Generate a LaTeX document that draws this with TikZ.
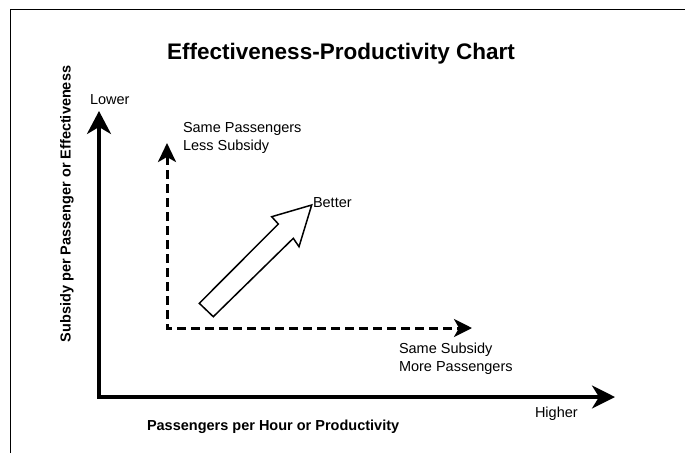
\documentclass[tikz,border=0pt]{standalone}
\usepackage{fontspec}
\setmainfont{Liberation Sans}
\usetikzlibrary{arrows.meta}
\newcommand\chartlbl{\fontsize{14.5}{18}\selectfont}
\begin{document}
\begin{tikzpicture}[x=1pt,y=-1pt,
  every node/.style={inner sep=0pt, outer sep=0pt},
  lbl/.style={font=\chartlbl},
  boldlbl/.style={font=\chartlbl\bfseries},
  mainaxis/.style={line width=3.4pt, line join=miter,
    {Stealth[length=23pt,width=24pt,inset=7pt]}-{Stealth[length=23pt,width=23pt,inset=7pt]}},
  guide/.style={line width=3pt, line join=miter, dash pattern=on 9pt off 5pt,
    {Stealth[length=19pt,width=18pt,inset=5pt]}-{Stealth[length=18pt,width=18pt,inset=5pt]}},
  blockarrow/.style={line width=1.5pt, line join=miter, fill=white}]
\useasboundingbox (0,0) rectangle (685,453);

% frame edges
\draw[line width=1pt] (10.5,453) -- (10.5,9) -- (685,9);

% title
\node[anchor=base, font=\fontsize{22.5}{27}\selectfont\bfseries] (title) at (341,59)
  {Effectiveness-Productivity Chart};

% axes
\coordinate (origin) at (99,397);
\coordinate (ytop) at (99,111);
\coordinate (xend) at (615,397);
\draw[mainaxis] (ytop) -- (origin) -- (xend);

% axis titles and end labels
\node[boldlbl, rotate=90, anchor=base] (ylabel) at (70.5,204)
  {Subsidy per Passenger or Effectiveness};
\node[boldlbl, anchor=base west] (xlabel) at (147,430)
  {Passengers per Hour or Productivity};
\node[lbl, anchor=base west] (lower) at (90,104) {Lower};
\node[lbl, anchor=base west] (higher) at (535,417) {Higher};

% dashed guides
\coordinate (gcorner) at (167,328);
\coordinate (gtop) at (167,143);
\coordinate (gright) at (472,328);
\draw[guide] (gtop) -- (gcorner) -- (gright);

\node[lbl, align=left, anchor=north west] (lesssub) at (183,122.5)
  {Same Passengers\\Less Subsidy};
\node[lbl, align=left, anchor=north west] (morepass) at (399,342.5)
  {Same Subsidy\\More Passengers};

% "better" block arrow
\draw[blockarrow] (199.3,303.3) -- (213.3,316.7) -- (293.3,238.3) -- (299,246.7)
  -- (311.7,205) -- (271.7,216.7) -- (278.3,224) -- cycle;
\node[lbl, anchor=base west] (better) at (313,207) {Better};
\end{tikzpicture}
\end{document}
